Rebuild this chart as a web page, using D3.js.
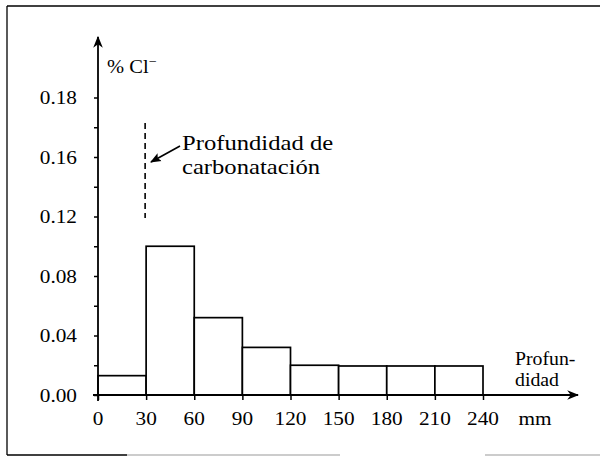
<!DOCTYPE html>
<html>
<head>
<meta charset="utf-8">
<script src="https://cdn.jsdelivr.net/npm/d3@7/dist/d3.min.js"></script>
<style>
  html, body { margin: 0; padding: 0; background: #fff; }
  svg { display: block; }
</style>
</head>
<body>
<svg id="chart" width="600" height="457"></svg>
<script>
// Chloride content (% Cl-) by depth interval (mm)
const binStarts = [0, 30, 60, 90, 120, 150, 180, 210];
const binWidth = 30;
const chloride = [0.013, 0.100, 0.052, 0.032, 0.020, 0.0195, 0.0195, 0.0195];

// Axis ticks and their printed labels
const xTickValues = [0, 30, 60, 90, 120, 150, 180, 210, 240];
const yMajorTicks = [0, 0.04, 0.08, 0.12, 0.16, 0.20];
const yTickLabels = ["0.00", "0.04", "0.08", "0.12", "0.16", "0.18"];
const yMinorTicks = [0.02, 0.06, 0.10, 0.14, 0.18];

const carbonationDepth = 30;

const serif = "'Liberation Serif', 'Times New Roman', Times, 'DejaVu Serif', serif";

const svg = d3.select("#chart").attr("font-family", serif);

const x = d3.scaleLinear().domain([0, 240]).range([98, 483]);
const y = d3.scaleLinear().domain([0, 0.20]).range([395, 97.5]);

// text with a slight horizontal stretch
function stretchedText(g, tx, ty, str, size, anchor, sx) {
  return g.append("text")
    .attr("transform", `translate(${tx},${ty}) scale(${sx},1)`)
    .attr("text-anchor", anchor)
    .attr("font-family", serif)
    .attr("font-size", size)
    .attr("fill", "#000")
    .text(str);
}

// frame
const frame = svg.append("g").attr("fill", "none");
frame.append("line").attr("x1", 7).attr("y1", 6).attr("x2", 7).attr("y2", 455)
  .attr("stroke", "#000").attr("stroke-width", 1.3);
frame.append("line").attr("x1", 7).attr("y1", 6).attr("x2", 600).attr("y2", 6)
  .attr("stroke", "#000").attr("stroke-width", 1.6);
frame.append("line").attr("x1", 7).attr("y1", 455).attr("x2", 127).attr("y2", 455)
  .attr("stroke", "#000").attr("stroke-width", 1.4);
frame.append("line").attr("x1", 127).attr("y1", 455).attr("x2", 340).attr("y2", 455)
  .attr("stroke", "#999").attr("stroke-width", 1);
frame.append("line").attr("x1", 485).attr("y1", 455).attr("x2", 600).attr("y2", 455)
  .attr("stroke", "#999").attr("stroke-width", 1);

// bars
svg.append("g")
  .selectAll("rect")
  .data(binStarts.map((s, i) => ({ start: s, value: chloride[i] })))
  .join("rect")
  .attr("x", d => x(d.start))
  .attr("width", d => x(d.start + binWidth) - x(d.start))
  .attr("y", d => y(d.value))
  .attr("height", d => y(0) - y(d.value))
  .attr("fill", "#fff")
  .attr("stroke", "#000")
  .attr("stroke-width", 1.7);

// arrowhead markers
const defs = svg.append("defs");
defs.append("marker")
  .attr("id", "arrow")
  .attr("viewBox", "0 0 10 10")
  .attr("refX", 9).attr("refY", 5)
  .attr("markerWidth", 12).attr("markerHeight", 12)
  .attr("markerUnits", "userSpaceOnUse")
  .attr("orient", "auto")
  .append("path").attr("d", "M0,1 L10,5 L0,9 L3,5 Z").attr("fill", "#000");
defs.append("marker")
  .attr("id", "smallArrow")
  .attr("viewBox", "0 0 10 10")
  .attr("refX", 9).attr("refY", 5)
  .attr("markerWidth", 11).attr("markerHeight", 11)
  .attr("markerUnits", "userSpaceOnUse")
  .attr("orient", "auto")
  .append("path").attr("d", "M0,1 L10,5 L0,9 L2,5 Z").attr("fill", "#000");

// x axis
const xAxis = d3.axisBottom(x).tickValues(xTickValues).tickSize(5).tickFormat("");
const gx = svg.append("g").attr("transform", `translate(0,${y(0)})`).call(xAxis);
gx.select(".domain").remove();
gx.selectAll(".tick line").attr("stroke", "#000").attr("stroke-width", 1.5);
svg.append("line")
  .attr("x1", 93).attr("y1", y(0)).attr("x2", 578).attr("y2", y(0))
  .attr("stroke", "#000").attr("stroke-width", 1.8)
  .attr("marker-end", "url(#arrow)");
const xLabels = svg.append("g");
xTickValues.forEach(v => stretchedText(xLabels, x(v), 425, String(v), 19, "middle", 1.12));
stretchedText(xLabels, 535, 425, "mm", 19, "middle", 1.12);

// y axis
const yAxis = d3.axisLeft(y).tickValues(yMajorTicks.concat(yMinorTicks)).tickSize(4).tickFormat("");
const gy = svg.append("g").attr("transform", `translate(${x(0)},0)`).call(yAxis);
gy.select(".domain").remove();
gy.selectAll(".tick line").attr("stroke", "#000").attr("stroke-width", 1.5);
svg.append("line")
  .attr("x1", x(0)).attr("y1", 401).attr("x2", x(0)).attr("y2", 37)
  .attr("stroke", "#000").attr("stroke-width", 1.8)
  .attr("marker-end", "url(#arrow)");
const yLabels = svg.append("g");
yMajorTicks.forEach((v, i) => stretchedText(yLabels, 77, y(v) + 6.5, yTickLabels[i], 19, "end", 1.12));

// y axis title
const yTitle = stretchedText(svg, 107, 73, "% Cl", 19, "start", 1.08);
yTitle.append("tspan").attr("dy", -7).attr("font-size", 13).text("\u2212");

// x axis title
stretchedText(svg, 515, 365, "Profun-", 18, "start", 1.1);
stretchedText(svg, 515, 386, "didad", 18, "start", 1.1);

// carbonation depth marker
svg.append("line")
  .attr("x1", x(carbonationDepth) - 1).attr("x2", x(carbonationDepth) - 1)
  .attr("y1", 123).attr("y2", 218)
  .attr("stroke", "#000").attr("stroke-width", 1.6)
  .attr("stroke-dasharray", "6,4");
svg.append("line")
  .attr("x1", 180).attr("y1", 146).attr("x2", 151).attr("y2", 162)
  .attr("stroke", "#000").attr("stroke-width", 1.5)
  .attr("marker-end", "url(#smallArrow)");
stretchedText(svg, 182, 150, "Profundidad de", 22, "start", 1.12);
stretchedText(svg, 182, 174, "carbonatación", 22, "start", 1.12);
</script>
</body>
</html>
